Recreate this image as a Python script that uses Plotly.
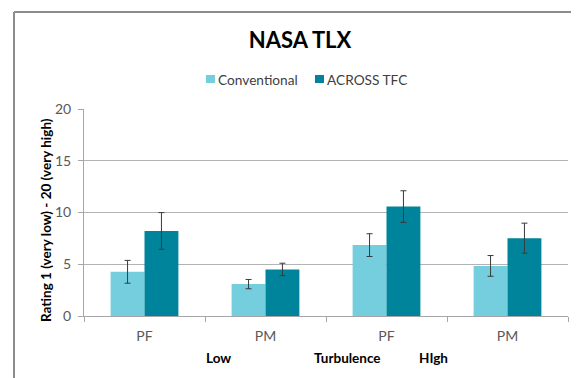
import plotly.graph_objects as go

categories = ["Low PF", "Low PM", "High PF", "High PM"]
tick_labels = ["PF", "PM", "PF", "PM"]
series_names = ["Conventional", "ACROSS TFC"]
conventional = [4.27, 3.08, 6.85, 4.84]
conventional_err = [1.1, 0.45, 1.1, 1.0]
across = [8.22, 4.5, 10.57, 7.52]
across_err = [1.77, 0.6, 1.53, 1.45]
colors = ["#74CEDE", "#00849B"]

FONT = "Lato, Open Sans, sans-serif"

# page body has an 8px margin: figure placed at (8, 8)
OFF = 8
W, H = 579 - OFF, 378 - OFF
PL, PT, PR, PB = 84, 109, 568, 316  # plot area in window pixels
pw, ph = PR - PL, PB - PT


def px(xa):
    return (xa - PL) / pw


def py(ya):
    return (PB - ya) / ph


fig = go.Figure()
for name, vals, errs, col in [(series_names[0], conventional, conventional_err, colors[0]),
                              (series_names[1], across, across_err, colors[1])]:
    fig.add_trace(go.Bar(
        name=name, x=categories, y=vals,
        marker=dict(color=col, line=dict(width=0)),
        error_y=dict(type="data", array=errs, color="#3A3A3A", thickness=1, width=3),
        showlegend=False,
    ))

fig.update_layout(
    width=W, height=H, autosize=False,
    margin=dict(l=PL - OFF, r=(OFF + W) - PR, t=PT - OFF, b=(OFF + H) - PB, autoexpand=False),
    paper_bgcolor="white", plot_bgcolor="white",
    font=dict(family=FONT, color="#595959", size=14),
    barmode="group", bargap=0.44, bargroupgap=0,
    title=dict(text="<b>NASA TLX</b>", xref="container", yref="container",
               x=(300 - OFF) / W, xanchor="center", y=1 - (40 - OFF) / H, yanchor="middle",
               font=dict(size=22, color="black", family=FONT)),
    showlegend=False,
)
fig.update_xaxes(
    tickvals=categories, ticktext=tick_labels, automargin=False,
    showline=True, linecolor="#A6A6A6", linewidth=1,
    ticks="outside", tickson="boundaries", ticklen=5, tickcolor="#A6A6A6",
    ticklabelstandoff=7,
    tickfont=dict(size=14, color="#595959"),
)
fig.update_yaxes(
    range=[0, 20], tickvals=[0, 5, 10, 15, 20], automargin=False,
    showline=True, linecolor="#A6A6A6", linewidth=1,
    ticks="outside", ticklen=5, tickcolor="#A6A6A6",
    ticklabelstandoff=4,
    showgrid=True, gridcolor="#B3B3B3", gridwidth=1,
    zeroline=False,
    tickfont=dict(size=14, color="#595959"),
)

# y-axis title
fig.add_annotation(text="<b>Rating 1 (very low) - 20 (very high)</b>", textangle=-90,
                   x=px(46), y=py(220), xref="paper", yref="paper", showarrow=False,
                   font=dict(size=13.5, color="black", family=FONT),
                   xanchor="center", yanchor="middle")

# legend (squares + labels)
for name, col, sq_x, tx in [(series_names[0], colors[0], 206, 217), (series_names[1], colors[1], 315, 326)]:
    fig.add_shape(type="rect", xref="paper", yref="paper",
                  x0=px(sq_x), x1=px(sq_x + 9), y0=py(83), y1=py(75),
                  fillcolor=col, line=dict(width=0))
    fig.add_annotation(text=name, x=px(tx), y=py(79), xref="paper", yref="paper",
                       showarrow=False, xanchor="left", yanchor="middle", borderpad=0,
                       font=dict(size=13.7, color="#404040", family=FONT))

# axis group labels
for txt, xa in [("Low", 218), ("Turbulence", 347), ("HIgh", 433)]:
    fig.add_annotation(text="<b>%s</b>" % txt, x=px(xa), y=py(358), xref="paper", yref="paper",
                       showarrow=False, font=dict(size=13.5, color="black", family=FONT),
                       xanchor="center", yanchor="middle")

# chart frame (left and top)
fx = px(14)
fy = py(12)
fig.add_shape(type="line", xref="paper", yref="paper", x0=fx, x1=fx, y0=py(390), y1=fy,
              line=dict(color="#8C8C8C", width=2))
fig.add_shape(type="line", xref="paper", yref="paper", x0=fx, x1=px(600), y0=fy, y1=fy,
              line=dict(color="#8C8C8C", width=2))

fig.write_html("out.html")
